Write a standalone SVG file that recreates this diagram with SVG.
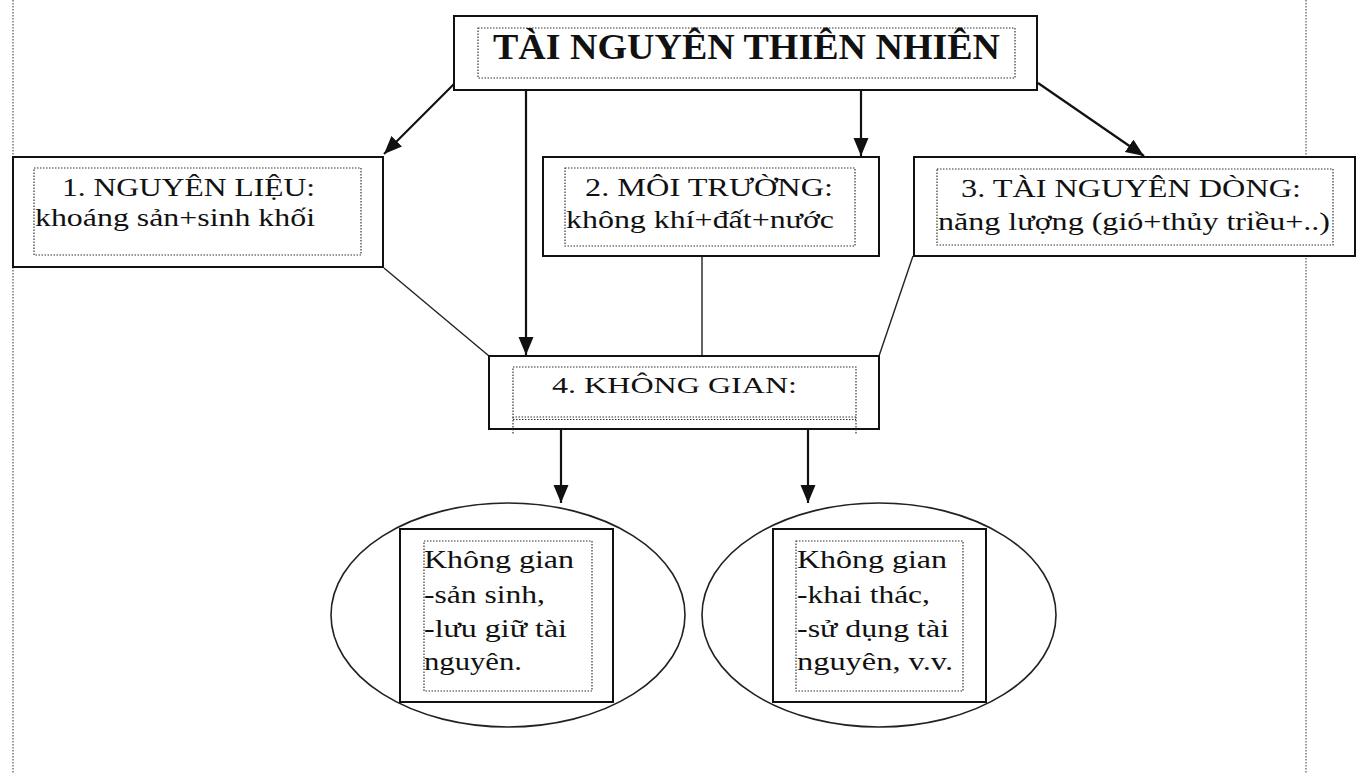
<svg xmlns="http://www.w3.org/2000/svg" width="1360" height="773" viewBox="0 0 1360 773">
<style>
.box{fill:#fff;stroke:#111;stroke-width:2}
.dot{fill:none;stroke:#333;stroke-width:1.2;stroke-dasharray:1.5 1.5}
.guide{fill:none;stroke:#555;stroke-width:1.2;stroke-dasharray:1.5 1.5}
.ell{fill:#fff;stroke:#222;stroke-width:1.6}
.arr{fill:none;stroke:#111;stroke-width:2.2;marker-end:url(#ah)}
.ln{fill:none;stroke:#222;stroke-width:1.4}
.t{font-family:"Liberation Serif","Times New Roman",serif;font-size:26px;fill:#111}
.e{font-family:"Liberation Serif","Times New Roman",serif;font-size:25px;fill:#111}
.title{font-family:"Liberation Serif","Times New Roman",serif;font-size:35px;font-weight:bold;fill:#111}
</style>
<defs>
<marker id="ah" markerUnits="userSpaceOnUse" markerWidth="20" markerHeight="16" refX="18" refY="7.5" orient="auto">
<path d="M0,0 L18,7.5 L0,15 z" fill="#111"/>
</marker>
</defs>
<rect width="1360" height="773" fill="#fff"/>
<g id="guides">
<line class="guide" x1="13" y1="0" x2="13" y2="773"/>
<line class="guide" x1="1306" y1="0" x2="1306" y2="773"/>
</g>
<g id="connectors">
<line class="arr" x1="454" y1="84" x2="384" y2="154"/>
<line class="arr" x1="526" y1="83" x2="526" y2="355"/>
<line class="arr" x1="861" y1="83" x2="861" y2="156"/>
<line class="arr" x1="1038" y1="83" x2="1144" y2="156"/>
<line class="ln" x1="384" y1="268" x2="489" y2="356"/>
<line class="ln" x1="702" y1="256" x2="702" y2="356"/>
<line class="ln" x1="913" y1="256" x2="879" y2="356"/>
<line class="arr" x1="561" y1="429" x2="561" y2="503"/>
<line class="arr" x1="808" y1="429" x2="808" y2="503"/>
</g>
<g id="title">
<rect class="box" x="454" y="16" width="583" height="74"/>
<rect class="dot" x="478" y="28" width="537" height="50"/>
<text class="title" x="493" y="59" textLength="507" lengthAdjust="spacingAndGlyphs">TÀI NGUYÊN THIÊN NHIÊN</text>
</g>
<g id="n1">
<rect class="box" x="13" y="157" width="370" height="110"/>
<rect class="dot" x="34" y="168" width="327" height="87"/>
<text class="t" x="62" y="196" textLength="253" lengthAdjust="spacingAndGlyphs">1. NGUYÊN LIỆU:</text>
<text class="t" x="35" y="226" textLength="280" lengthAdjust="spacingAndGlyphs">khoáng sản+sinh khối</text>
</g>
<g id="n2">
<rect class="box" x="543" y="157" width="336" height="99"/>
<rect class="dot" x="565" y="168" width="290" height="78"/>
<text class="t" x="585" y="196" textLength="248" lengthAdjust="spacingAndGlyphs">2. MÔI TRƯỜNG:</text>
<text class="t" x="566" y="228" textLength="268" lengthAdjust="spacingAndGlyphs">không khí+đất+nước</text>
</g>
<g id="n3">
<rect class="box" x="914" y="157" width="441" height="99"/>
<rect class="dot" x="937" y="169" width="396" height="76"/>
<text class="t" x="961" y="197" textLength="340" lengthAdjust="spacingAndGlyphs">3. TÀI NGUYÊN DÒNG:</text>
<text class="t" x="938" y="230" textLength="392" lengthAdjust="spacingAndGlyphs">năng lượng (gió+thủy triều+..)</text>
</g>
<g id="n4">
<rect class="box" x="489" y="356" width="390" height="73"/>
<rect class="dot" x="513" y="367" width="343" height="50"/>
<line class="dot" x1="513" y1="419.5" x2="856" y2="419.5"/>
<line class="dot" x1="513" y1="417" x2="513" y2="434"/>
<line class="dot" x1="856" y1="417" x2="856" y2="434"/>
<text class="t" x="552" y="393" font-size="24" style="font-size:24px" textLength="245" lengthAdjust="spacingAndGlyphs">4. KHÔNG GIAN:</text>
</g>
<g id="n5">
<ellipse class="ell" cx="508" cy="615" rx="177" ry="112"/>
<rect class="box" x="400" y="529" width="213" height="173"/>
<rect class="dot" x="424" y="541" width="168" height="150"/>
<text class="e" x="424" y="568" textLength="150" lengthAdjust="spacingAndGlyphs">Không gian</text>
<text class="e" x="424" y="603" textLength="121" lengthAdjust="spacingAndGlyphs">-sản sinh,</text>
<text class="e" x="424" y="637" textLength="143" lengthAdjust="spacingAndGlyphs">-lưu giữ tài</text>
<text class="e" x="424" y="670" textLength="98" lengthAdjust="spacingAndGlyphs">nguyên.</text>
</g>
<g id="n6">
<ellipse class="ell" cx="879" cy="615" rx="177" ry="112"/>
<rect class="box" x="773" y="529" width="213" height="173"/>
<rect class="dot" x="796" y="541" width="167" height="150"/>
<text class="e" x="797" y="568" textLength="150" lengthAdjust="spacingAndGlyphs">Không gian</text>
<text class="e" x="797" y="603" textLength="133" lengthAdjust="spacingAndGlyphs">-khai thác,</text>
<text class="e" x="797" y="637" textLength="152" lengthAdjust="spacingAndGlyphs">-sử dụng tài</text>
<text class="e" x="797" y="670" textLength="156" lengthAdjust="spacingAndGlyphs">nguyên, v.v.</text>
</g>
</svg>
